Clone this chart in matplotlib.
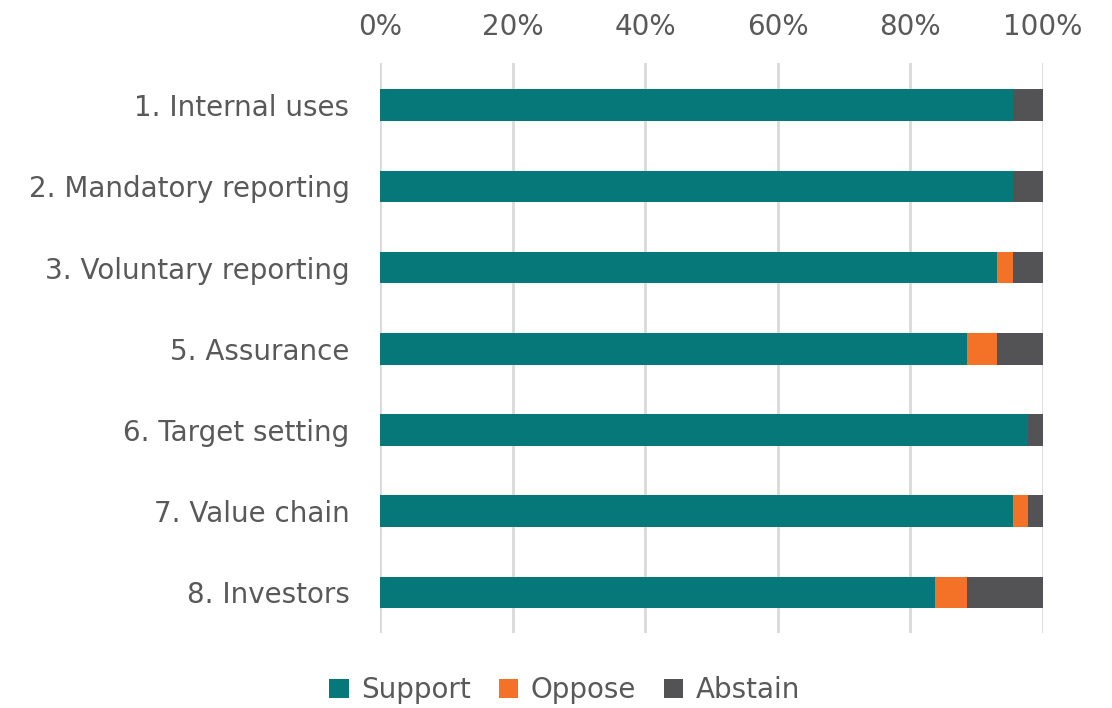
import numpy as np
import matplotlib.pyplot as plt

categories = ["1. Internal uses", "2. Mandatory reporting", "3. Voluntary reporting",
              "5. Assurance", "6. Target setting", "7. Value chain", "8. Investors"]
support = [95.5, 95.5, 93.1, 88.6, 97.7, 95.5, 83.7]
oppose = [0.0, 0.0, 2.3, 4.5, 0.0, 2.3, 4.8]
abstain = [4.5, 4.5, 4.6, 6.9, 2.3, 2.2, 11.5]

txt = "#595959"
plt.rcParams['font.family'] = ['DejaVu Sans']

fig = plt.figure(figsize=(11.12, 7.08), dpi=100)
ax = fig.add_axes([380/1112, 1 - 633/708, 663/1112, 570/708])

y = np.arange(len(categories))
h = 0.39
s = np.array(support)
o = np.array(oppose)
a = np.array(abstain)
ax.barh(y, s, height=h, color="#06787A", label="Support", zorder=3)
ax.barh(y, o, left=s, height=h, color="#F37227", label="Oppose", zorder=3)
ax.barh(y, a, left=s + o, height=h, color="#535355", label="Abstain", zorder=3)

ax.set_xlim(0, 100)
ax.set_ylim(6.5, -0.52)
ax.set_xticks(np.arange(0, 101, 20))
ax.set_xticklabels([f"{v}%" for v in range(0, 101, 20)])
ax.xaxis.tick_top()
ax.set_yticks(y)
ax.set_yticklabels(categories)
ax.tick_params(axis='both', length=0, labelsize=20, colors=txt)
ax.tick_params(axis='x', pad=16)
ax.tick_params(axis='y', pad=22)
ax.grid(axis='x', color="#D9D9D9", linewidth=2, zorder=0)
for sp in ax.spines.values():
    sp.set_visible(False)

leg = fig.legend(loc='center', bbox_to_anchor=(0.508, 1 - 690/708), ncol=3, frameon=False,
                 fontsize=20, handlelength=0.7, handleheight=0.7, handletextpad=0.45,
                 columnspacing=1.0)
for t in leg.get_texts():
    t.set_color(txt)

fig.savefig("out.png", dpi=100)
